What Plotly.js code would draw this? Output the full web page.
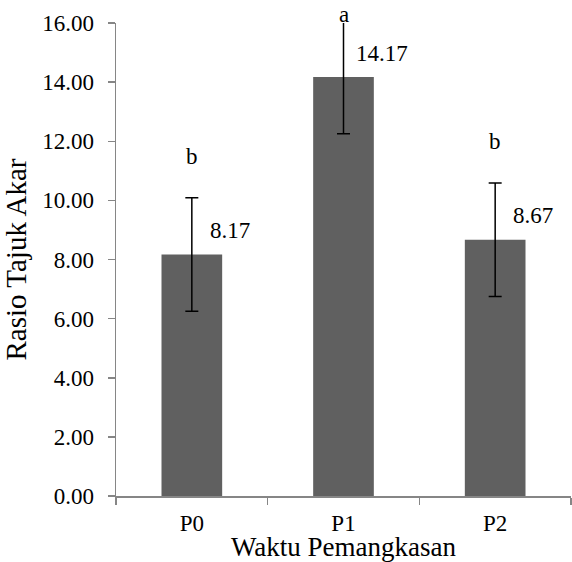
<!DOCTYPE html>
<html>
<head>
<meta charset="utf-8">
<script src="https://cdn.plot.ly/plotly-3.0.1.min.js"></script>
<style>html,body{margin:0;padding:0;background:#fff;}#chart{width:572px;height:562px;}</style>
</head>
<body>
<div id="chart"></div>
<script>
var categories = ["P0", "P1", "P2"];
var values = [8.17, 14.17, 8.67];
var errors = [1.92, 1.92, 1.92];
var valueLabels = ["8.17", "14.17", "8.67"];
var letters = ["b", "a", "b"];
var yTicks = [0, 2, 4, 6, 8, 10, 12, 14, 16];
var yTickLabels = ["0.00", "2.00", "4.00", "6.00", "8.00", "10.00", "12.00", "14.00", "16.00"];

var FONT = "Liberation Serif";
var yMax = 16;

var trace = {
  type: "bar",
  x: categories,
  y: values,
  marker: {color: "#606060", line: {width: 0}},
  error_y: {type: "data", array: errors, visible: true, color: "#000000", thickness: 1.5, width: 6.5},
  hoverinfo: "none"
};

var annotations = [];
for (var i = 0; i < categories.length; i++) {
  annotations.push({
    x: categories[i], y: values[i], xref: "x", yref: "y",
    text: valueLabels[i], showarrow: false,
    xanchor: "center", yanchor: "middle", xshift: 38, yshift: 24,
    font: {family: FONT, size: 23, color: "#000"}
  });
  annotations.push({
    x: categories[i], y: Math.min(values[i] + errors[i] + 1.1, yMax), xref: "x", yref: "y",
    text: letters[i], showarrow: false,
    xanchor: "center", yanchor: "bottom", yshift: -6,
    font: {family: FONT, size: 23, color: "#000"}
  });
}

var layout = {
  width: 572, height: 562,
  margin: {l: 116, r: 1, t: 23, b: 66},
  paper_bgcolor: "#fff", plot_bgcolor: "#fff",
  showlegend: false,
  bargap: 0.6,
  font: {family: FONT, size: 23, color: "#000"},
  xaxis: {
    type: "category",
    showline: true, linecolor: "#868686", linewidth: 1.5,
    ticks: "outside", tickson: "boundaries", ticklen: 7, tickcolor: "#868686", tickwidth: 1.5,
    ticklabelstandoff: 6,
    showgrid: false, zeroline: false,
    tickfont: {family: FONT, size: 23, color: "#000"},
    title: {text: "Waktu Pemangkasan", font: {family: FONT, size: 27, color: "#000"}, standoff: 2}
  },
  yaxis: {
    range: [0, yMax],
    tickvals: yTicks, ticktext: yTickLabels,
    showline: true, linecolor: "#868686", linewidth: 1.5,
    ticks: "outside", ticklen: 7, tickcolor: "#868686", tickwidth: 1.5,
    ticklabelstandoff: 9,
    showgrid: false, zeroline: false,
    tickfont: {family: FONT, size: 23, color: "#000"},
    title: {text: "Rasio Tajuk Akar", font: {family: FONT, size: 29, color: "#000"}, standoff: 8}
  },
  annotations: annotations
};

Plotly.newPlot("chart", [trace], layout, {displayModeBar: false, staticPlot: true});
</script>
</body>
</html>
